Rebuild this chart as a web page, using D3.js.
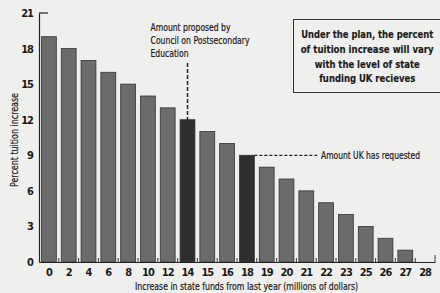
<!DOCTYPE html>
<html>
<head>
<meta charset="utf-8">
<script src="https://cdn.jsdelivr.net/npm/d3@7"></script>
<style>
  body { margin: 0; background: #efefed; }
  svg { display: block; }
  text { font-family: "DejaVu Sans Condensed", "DejaVu Sans", sans-serif; fill: #1a1a1a; }
</style>
</head>
<body>
<svg id="chart"></svg>
<script>
const width = 440
const height = 293

const funds = ["0","2","4","6","8","10","12","14","15","16","18","19","20","21","22","23","25","26","27","28"]
const tuition = [19,18,17,16,15,14,13,12,11,10,9,8,7,6,5,4,3,2,1,0]
const highlighted = ["14","18"]
const yTicks = [0,3,6,9,12,15,18,21]
const proposedLines = ["Amount proposed by", "Council on Postsecondary", "Education"]
const proposedWidths = [80, 99, 38]
const noteLines = ["Under the plan, the percent", "of tuition increase will vary", "with the level of state", "funding UK recieves"]
const noteWidths = [132, 133, 105, 96]

const margin = {top: 13, right: 5, bottom: 31, left: 39}

const svg = d3.select("#chart")
  .attr("width", width)
  .attr("height", height)

svg.append("rect").attr("width", width).attr("height", height).attr("fill", "#efefed")

const x = d3.scaleBand()
  .domain(funds)
  .range([margin.left, width - margin.right])
  .paddingInner(0.25)
  .paddingOuter(0.125)

const y = d3.scaleLinear()
  .domain([0, 21])
  .range([height - margin.bottom, margin.top])

// bars
svg.append("g")
  .selectAll("rect")
  .data(funds)
  .join("rect")
    .attr("x", d => x(d))
    .attr("y", (d, i) => y(tuition[i]))
    .attr("width", x.bandwidth())
    .attr("height", (d, i) => y(0) - y(tuition[i]))
    .attr("fill", d => highlighted.includes(d) ? "#2e2e2e" : "#6b6b6b")
    .attr("stroke", "#333")
    .attr("stroke-width", 0.8)

// y axis
const yAxis = svg.append("g")
  .attr("transform", `translate(${margin.left},0)`)
  .call(d3.axisLeft(y).tickValues(yTicks).tickSize(0).tickPadding(6))
yAxis.select(".domain").attr("stroke", "#222").attr("stroke-width", 1.2)
yAxis.selectAll("text")
  .attr("font-size", 11)
  .attr("font-weight", "bold")
  .attr("letter-spacing", -1)
svg.append("line")
  .attr("x1", margin.left).attr("x2", margin.left + 9)
  .attr("y1", y(21)).attr("y2", y(21))
  .attr("stroke", "#222").attr("stroke-width", 1.2)

// x axis
const xAxis = svg.append("g")
  .attr("transform", `translate(0,${y(0)})`)
  .call(d3.axisBottom(x).tickSize(0).tickPadding(6))
xAxis.select(".domain").attr("stroke", "#222").attr("stroke-width", 1.2)
xAxis.selectAll("text")
  .attr("font-size", 11)
  .attr("font-weight", "bold")
  .attr("letter-spacing", -1)

// small separator ticks between bars
const step = x.step()
svg.append("g")
  .selectAll("line")
  .data(funds.slice(1).concat(["end"]))
  .join("line")
    .attr("x1", (d, i) => i < funds.length - 1 ? x(d) - step * 0.125 : width - margin.right)
    .attr("x2", (d, i) => i < funds.length - 1 ? x(d) - step * 0.125 : width - margin.right)
    .attr("y1", y(0))
    .attr("y2", (d, i) => y(0) - (i < funds.length - 1 ? 4 : 7))
    .attr("stroke", "#333")
    .attr("stroke-width", 1)

// axis titles
svg.append("text")
  .attr("x", 135)
  .attr("y", 290)
  .attr("font-size", 10.5)
  .attr("stroke", "#1a1a1a").attr("stroke-width", 0.2)
  .attr("textLength", 223)
  .attr("lengthAdjust", "spacingAndGlyphs")
  .text("Increase in state funds from last year (millions of dollars)")

svg.append("text")
  .attr("transform", `translate(18,187) rotate(-90)`)
  .attr("font-size", 10.5)
  .attr("stroke", "#1a1a1a").attr("stroke-width", 0.2)
  .attr("textLength", 94)
  .attr("lengthAdjust", "spacingAndGlyphs")
  .text("Percent tuition increase")

// proposed annotation
const px = x("14") + x.bandwidth() / 2
svg.append("line")
  .attr("x1", px).attr("x2", px)
  .attr("y1", 63).attr("y2", y(12))
  .attr("stroke", "#222").attr("stroke-width", 1.5)
  .attr("stroke-dasharray", "4,2")
svg.append("g")
  .selectAll("text")
  .data(proposedLines)
  .join("text")
    .attr("x", 150.5)
    .attr("y", (d, i) => 31 + i * 13)
    .attr("font-size", 10.5)
    .attr("stroke", "#1a1a1a").attr("stroke-width", 0.2)
    .attr("textLength", (d, i) => proposedWidths[i])
    .attr("lengthAdjust", "spacingAndGlyphs")
    .text(d => d)

// requested annotation
svg.append("line")
  .attr("x1", x("18") + x.bandwidth()).attr("x2", 318)
  .attr("y1", y(9)).attr("y2", y(9))
  .attr("stroke", "#222").attr("stroke-width", 1.2)
  .attr("stroke-dasharray", "3,2")
svg.append("text")
  .attr("x", 321)
  .attr("y", y(9) + 4)
  .attr("font-size", 10)
  .attr("stroke", "#1a1a1a").attr("stroke-width", 0.2)
  .attr("textLength", 99)
  .attr("lengthAdjust", "spacingAndGlyphs")
  .text("Amount UK has requested")

// note box
svg.append("rect")
  .attr("x", 293.5).attr("y", 19.5)
  .attr("width", 150).attr("height", 73)
  .attr("fill", "#efefed")
  .attr("stroke", "#333").attr("stroke-width", 1)
svg.append("g")
  .selectAll("text")
  .data(noteLines)
  .join("text")
    .attr("x", (d, i) => 367.2 - noteWidths[i] / 2)
    .attr("y", (d, i) => 38 + i * 14.8)
    .attr("font-size", 10.2)
    .attr("font-weight", "bold")
    .attr("stroke", "#1a1a1a").attr("stroke-width", 0.15)
    .attr("textLength", (d, i) => noteWidths[i])
    .attr("lengthAdjust", "spacingAndGlyphs")
    .text(d => d)
</script>
</body>
</html>
